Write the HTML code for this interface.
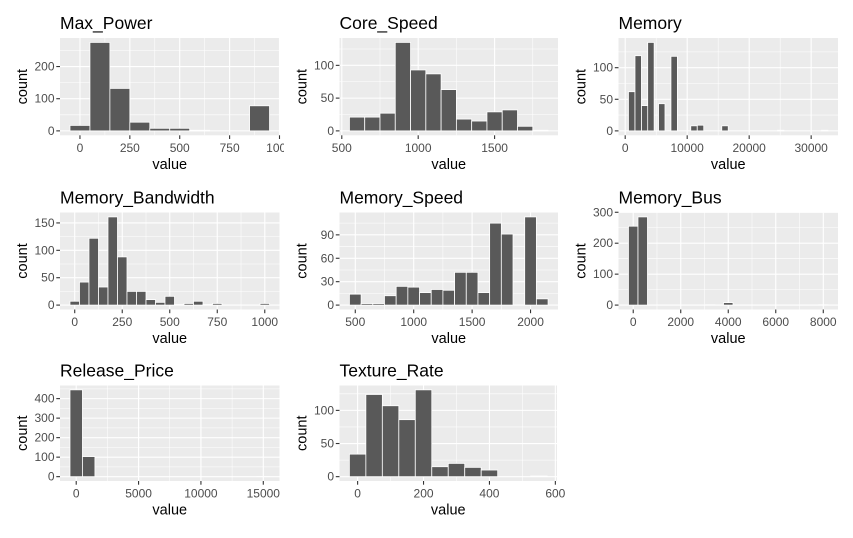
<!DOCTYPE html>
<html><head><meta charset="utf-8"><style>
html,body{margin:0;padding:0;background:#fff;}
svg text{font-family:"Liberation Sans",Arial,sans-serif;}
</style></head><body>
<svg id="chart" width="853" height="533" viewBox="0 0 853 533" xmlns="http://www.w3.org/2000/svg">
<defs>
<clipPath id="c0"><rect x="0" y="0" width="284" height="533"/></clipPath>
<clipPath id="c1"><rect x="284" y="0" width="286" height="533"/></clipPath>
<clipPath id="c2"><rect x="564" y="0" width="289" height="533"/></clipPath>
</defs>
</svg>
<script>
// ---- data (bin centers, counts, bin widths, ticks) ----
const maxPowerBins = [0,100,200,300,400,500,600,700,800,900];
const maxPowerCounts = [17,275,132,27,8,8,2,0,0,78];
const maxPowerWidth = 100;
const maxPowerXTicks = [0,250,500,750,1000];
const maxPowerYTicks = [0,100,200];

const coreSpeedBins = [600,700,800,900,1000,1100,1200,1300,1400,1500,1600,1700,1800];
const coreSpeedCounts = [21,21,27,135,93,87,63,18,15,29,32,7,1];
const coreSpeedWidth = 100;
const coreSpeedXTicks = [500,1000,1500];
const coreSpeedYTicks = [0,50,100];

const memoryBins = [1050,2100,3150,4150,5900,7900,11100,12150,16100,25100,32200];
const memoryCounts = [62,119,40,140,43,118,8,9,8,1,1];
const memoryWidth = 1040;
const memoryXTicks = [0,10000,20000,30000];
const memoryYTicks = [0,50,100];

const bandwidthBins = [0,50,100,150,200,250,300,350,400,450,500,550,600,650,700,750,800,850,900,950,1000];
const bandwidthCounts = [7,42,122,33,161,88,25,25,10,5,16,1,3,7,1,3,0,0,0,0,3];
const bandwidthWidth = 50;
const bandwidthXTicks = [0,250,500,750,1000];
const bandwidthYTicks = [0,50,100,150];

const memSpeedBins = [500,600,700,800,900,1000,1100,1200,1300,1400,1500,1600,1700,1800,1900,2000,2100];
const memSpeedCounts = [14,2,2,12,24,23,16,20,19,42,42,16,105,91,0,113,8];
const memSpeedWidth = 100;
const memSpeedXTicks = [500,1000,1500,2000];
const memSpeedYTicks = [0,30,60,90];

const busBins = [0,400,3250,4000,8000];
const busCounts = [255,285,1,8,1];
const busWidth = 400;
const busXTicks = [0,2000,4000,6000,8000];
const busYTicks = [0,100,200,300];

const priceBins = [0,1000,15000];
const priceCounts = [445,103,1];
const priceWidth = 1000;
const priceXTicks = [0,5000,10000,15000];
const priceYTicks = [0,100,200,300,400];

const textureBins = [0,50,100,150,200,250,300,350,400,450,500,550];
const textureCounts = [34,124,107,86,131,15,20,14,10,0,0,1];
const textureWidth = 50;
const textureXTicks = [0,200,400,600];
const textureYTicks = [0,50,100];

// ---- layout ----
const NS = "http://www.w3.org/2000/svg";
const svg = document.getElementById('chart');
const panels = [
  {title:"Max_Power", key:"max-power", bins:maxPowerBins, counts:maxPowerCounts, w:maxPowerWidth, xt:maxPowerXTicks, yt:maxPowerYTicks, x0:60, x1:279.5, y0:38, y1:135.3, clip:"c0"},
  {title:"Core_Speed", key:"core-speed", bins:coreSpeedBins, counts:coreSpeedCounts, w:coreSpeedWidth, xt:coreSpeedXTicks, yt:coreSpeedYTicks, x0:339.5, x1:558, y0:38, y1:135.3, clip:"c1"},
  {title:"Memory", key:"memory", bins:memoryBins, counts:memoryCounts, w:memoryWidth, xt:memoryXTicks, yt:memoryYTicks, x0:618.5, x1:838, y0:38, y1:135.3, clip:"c2"},
  {title:"Memory_Bandwidth", key:"memory-bandwidth", bins:bandwidthBins, counts:bandwidthCounts, w:bandwidthWidth, xt:bandwidthXTicks, yt:bandwidthYTicks, x0:60, x1:279.5, y0:212.5, y1:309.5, clip:"c0"},
  {title:"Memory_Speed", key:"memory-speed", bins:memSpeedBins, counts:memSpeedCounts, w:memSpeedWidth, xt:memSpeedXTicks, yt:memSpeedYTicks, x0:339.5, x1:558, y0:212.5, y1:309.5, clip:"c1"},
  {title:"Memory_Bus", key:"memory-bus", bins:busBins, counts:busCounts, w:busWidth, xt:busXTicks, yt:busYTicks, x0:618.5, x1:838, y0:212.5, y1:309.5, clip:"c2"},
  {title:"Release_Price", key:"release-price", bins:priceBins, counts:priceCounts, w:priceWidth, xt:priceXTicks, yt:priceYTicks, x0:60, x1:279.5, y0:385.5, y1:481, clip:"c0"},
  {title:"Texture_Rate", key:"texture-rate", bins:textureBins, counts:textureCounts, w:textureWidth, xt:textureXTicks, yt:textureYTicks, x0:339.5, x1:557, y0:385.5, y1:481, clip:"c1"}
];

function mk(tag, attrs, parent){
  const e = document.createElementNS(NS, tag);
  for (const k in attrs) e.setAttribute(k, attrs[k]);
  (parent||svg).appendChild(e);
  return e;
}

panels.forEach(p => {
  const g = mk('g', {'clip-path':'url(#'+p.clip+')'});
  
  
  const lo = Math.min(...p.bins) - p.w/2, hi = Math.max(...p.bins) + p.w/2;
  const ex = (hi-lo)*0.05;
  const dx0 = lo-ex, dx1 = hi+ex;
  const cmax = Math.max(...p.counts);
  const dy0 = -0.05*cmax, dy1 = 1.05*cmax;
  const sx = v => p.x0 + (v-dx0)/(dx1-dx0)*(p.x1-p.x0);
  const sy = v => p.y1 - (v-dy0)/(dy1-dy0)*(p.y1-p.y0);

  const bg = mk('rect', {x:p.x0, y:p.y0, width:p.x1-p.x0, height:p.y1-p.y0, fill:'#EBEBEB'}, g);
  
  

  const xs = p.xt[1]-p.xt[0], ys = p.yt[1]-p.yt[0];
  for (let v = p.xt[0]-xs/2; v <= dx1; v += xs) {
    if (v < dx0) continue;
    const l = mk('line', {x1:sx(v), x2:sx(v), y1:p.y0, y2:p.y1, stroke:'#fff', 'stroke-width':0.55}, g);
    
    
  }
  for (let v = p.yt[0]-ys/2; v <= dy1; v += ys) {
    if (v < dy0) continue;
    const l = mk('line', {x1:p.x0, x2:p.x1, y1:sy(v), y2:sy(v), stroke:'#fff', 'stroke-width':0.55}, g);
    
    
  }
  p.xt.forEach(v => {
    const l = mk('line', {x1:sx(v), x2:sx(v), y1:p.y0, y2:p.y1, stroke:'#fff', 'stroke-width':1.1}, g);
    
    
    const t = mk('line', {x1:sx(v), x2:sx(v), y1:p.y1, y2:p.y1+3.7, stroke:'#333', 'stroke-width':1.1}, g);
    
    
    const tx = mk('text', {x:sx(v), y:p.y1+16.5, 'text-anchor':'middle', 'font-size':12, fill:'#4D4D4D'}, g);
    tx.textContent = String(v);
    
    
  });
  p.yt.forEach(v => {
    const l = mk('line', {x1:p.x0, x2:p.x1, y1:sy(v), y2:sy(v), stroke:'#fff', 'stroke-width':1.1}, g);
    
    
    const t = mk('line', {x1:p.x0-3.7, x2:p.x0, y1:sy(v), y2:sy(v), stroke:'#333', 'stroke-width':1.1}, g);
    
    
    const tx = mk('text', {x:p.x0-5.5, y:sy(v)+4, 'text-anchor':'end', 'font-size':12, fill:'#4D4D4D'}, g);
    tx.textContent = String(v);
    
    
  });
  p.bins.forEach((c, i) => {
    const n = p.counts[i];
    if (n <= 0) return;
    const b = mk('rect', {x:sx(c-p.w/2), y:sy(n), width:sx(c+p.w/2)-sx(c-p.w/2), height:sy(0)-sy(n), fill:'#595959', stroke:'#fff', 'stroke-width':0.8}, g);
    
    
  });
  const tt = mk('text', {x:p.x0, y:p.y0-9, 'font-size':17.5, fill:'#000'}, g);
  tt.textContent = p.title;
  
  
  const xl = mk('text', {x:(p.x0+p.x1)/2, y:p.y1+33.5, 'text-anchor':'middle', 'font-size':14.5, fill:'#000'}, g);
  xl.textContent = 'value';
  
  
  const cy = (p.y0+p.y1)/2, cx = p.x0-33;
  const yl = mk('text', {x:cx, y:cy, 'text-anchor':'middle', 'font-size':14.5, fill:'#000', transform:'rotate(-90 '+cx+' '+cy+')'}, g);
  yl.textContent = 'count';
  
  
});
</script>
</body></html>
